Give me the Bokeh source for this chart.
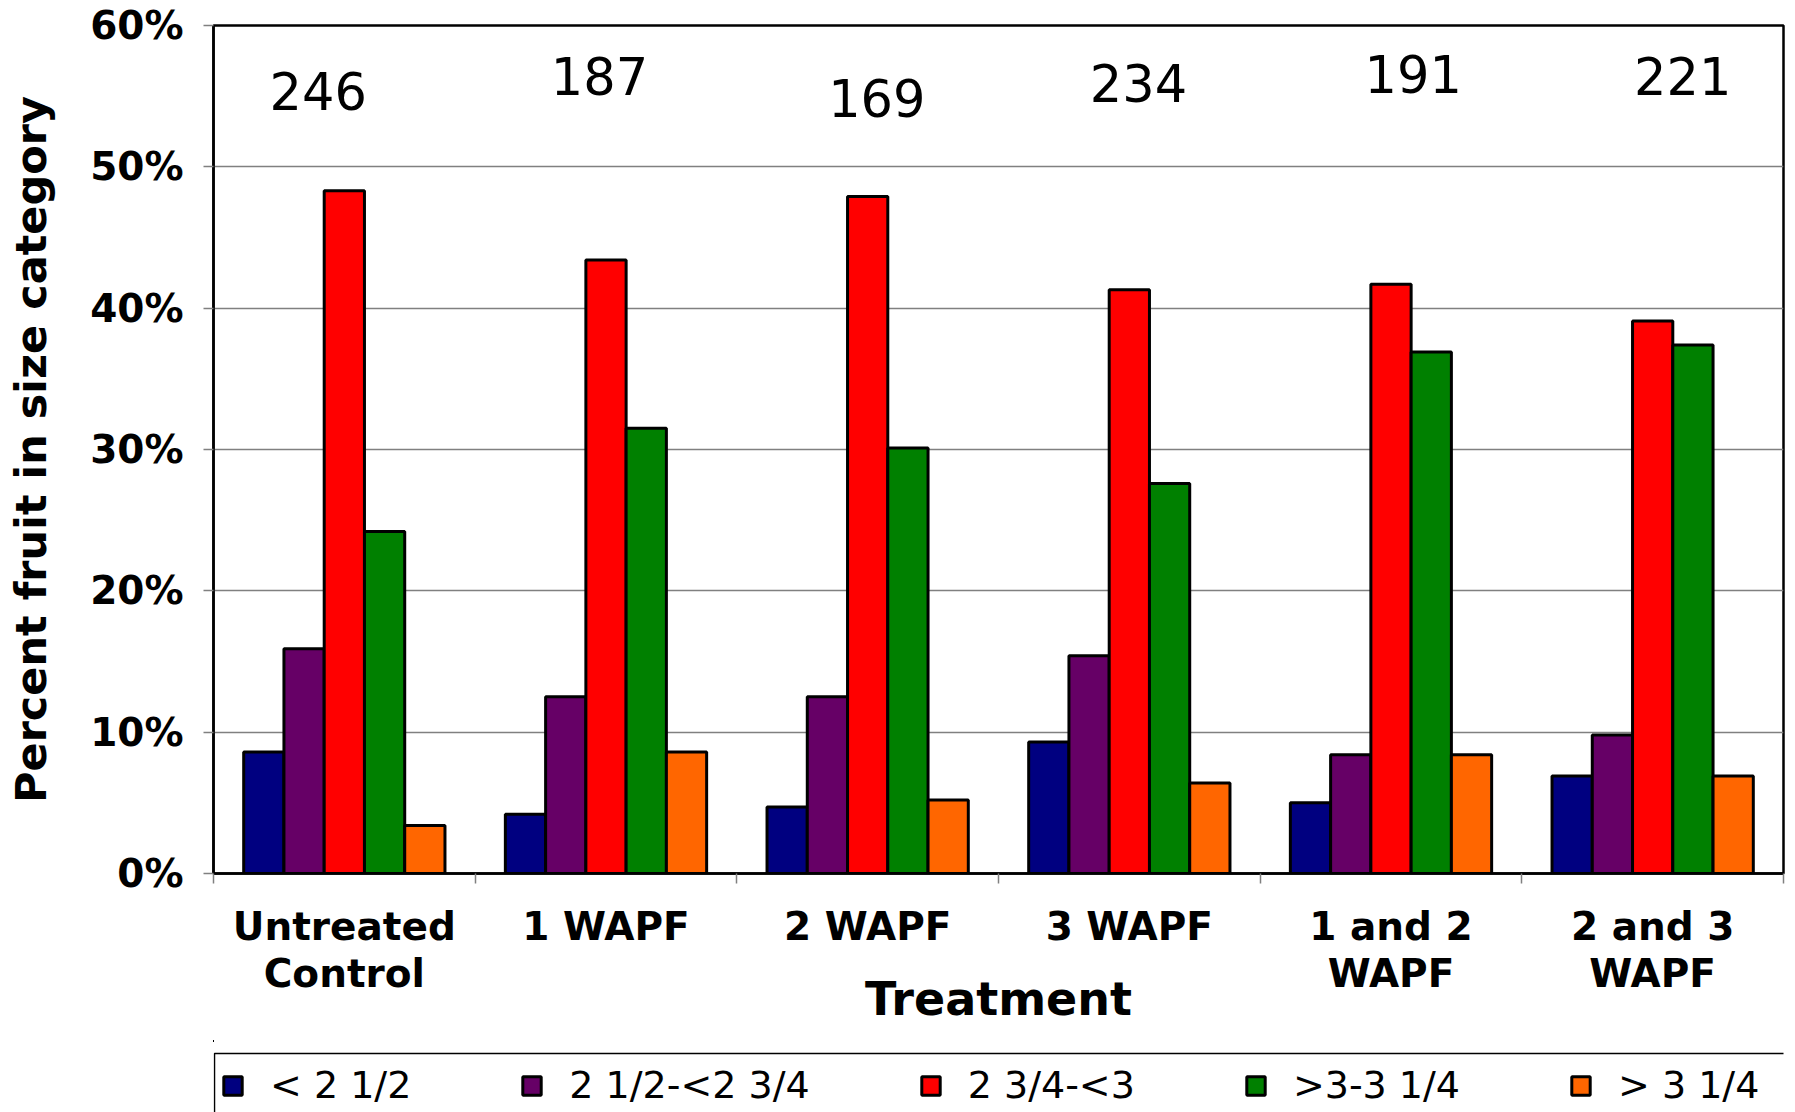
from bokeh.plotting import figure
from bokeh.layouts import column
from bokeh.models import (Range1d, FixedTicker, Legend, LegendItem,
                          ColumnDataSource, PrintfTickFormatter)
from bokeh.core.properties import value
from bokeh.embed import file_html
from bokeh.resources import INLINE

# ---------------- data ----------------
treatments = ["Untreated\nControl", "1 WAPF", "2 WAPF", "3 WAPF", "1 and 2\nWAPF", "2 and 3\nWAPF"]
size_classes = ["< 2 1/2", "2 1/2-<2 3/4", "2 3/4-<3", ">3-3 1/4", "> 3 1/4"]
colors = ["#000080", "#660066", "#FF0000", "#008000", "#FF6600"]

lt_2_half = [8.6, 4.2, 4.7, 9.3, 5.0, 6.9]
from_2_half_to_2_3q = [15.9, 12.5, 12.5, 15.4, 8.4, 9.8]
from_2_3q_to_3 = [48.3, 43.4, 47.9, 41.3, 41.7, 39.1]
from_3_to_3_quarter = [24.2, 31.5, 30.1, 27.6, 36.9, 37.4]
gt_3_quarter = [3.4, 8.6, 5.2, 6.4, 8.4, 6.9]
series = [lt_2_half, from_2_half_to_2_3q, from_2_3q_to_3, from_3_to_3_quarter, gt_3_quarter]

fruit_counts = ["246", "187", "169", "234", "191", "221"]
count_x = [0.40, 1.475, 2.535, 3.535, 4.585, 5.615]
count_y = [55.4, 56.4, 54.85, 55.9, 56.6, 56.4]

y_ticks = [0, 10, 20, 30, 40, 50, 60]

# ---------------- main chart ----------------
FONT = "DejaVu Sans"
p = figure(width=1787, height=1040, output_backend="svg", toolbar_location=None,
           x_range=Range1d(0, len(treatments)), y_range=Range1d(0, 60),
           min_border_left=213, min_border_right=4, min_border_top=25, min_border_bottom=167)
p.background_fill_color = "white"
p.border_fill_color = "white"
p.outline_line_color = "black"
p.outline_line_width = 2.5

centers = [i + 0.5 for i in range(len(treatments))]
bar_w = 1 / 6.5
sources = []
for k, (vals, col) in enumerate(zip(series, colors)):
    xs = [c + (k - 2) * bar_w for c in centers]
    src = ColumnDataSource(dict(x=xs, top=vals))
    sources.append(src)
    p.vbar(x="x", top="top", width=bar_w, bottom=0, source=src,
           fill_color=col, line_color="black", line_width=3)

# count labels
p.text(x=count_x, y=count_y, text=fruit_counts, text_align="center", text_baseline="middle",
       text_font=value(FONT), text_font_size="51px", text_color="black")

# grid
p.xgrid.grid_line_color = None
p.ygrid.ticker = FixedTicker(ticks=y_ticks)
p.ygrid.grid_line_color = "#808080"
p.ygrid.grid_line_width = 1.3

# y axis
ya = p.yaxis[0]
ya.ticker = FixedTicker(ticks=y_ticks)
ya.formatter = PrintfTickFormatter(format="%d%%")
ya.axis_line_color = "black"
ya.axis_line_width = 2.5
ya.major_tick_line_color = "#808080"
ya.major_tick_line_width = 1.5
ya.major_tick_out = 10
ya.major_tick_in = 0
ya.minor_tick_line_color = None
ya.major_label_standoff = 20
ya.major_label_text_font = FONT
ya.major_label_text_font_style = "bold"
ya.major_label_text_font_size = "39px"
ya.major_label_text_color = "black"
ya.axis_label = "Percent fruit in size category"
ya.axis_label_text_font = FONT
ya.axis_label_text_font_style = "bold"
ya.axis_label_text_font_size = "43px"
ya.axis_label_text_color = "black"
ya.axis_label_standoff = 31

# x axis
xa = p.xaxis[0]
xa.ticker = FixedTicker(ticks=centers, minor_ticks=list(range(len(treatments) + 1)))
xa.major_label_overrides = {c: t for c, t in zip(centers, treatments)}
xa.axis_line_color = "black"
xa.axis_line_width = 2.5
xa.major_tick_line_color = None
xa.major_tick_out = 0
xa.major_tick_in = 0
xa.minor_tick_line_color = "#808080"
xa.minor_tick_line_width = 1.5
xa.minor_tick_out = 10
xa.minor_tick_in = 0
xa.major_label_standoff = 20
xa.major_label_text_font = FONT
xa.major_label_text_font_style = "bold"
xa.major_label_text_font_size = "39px"
xa.major_label_text_color = "black"
xa.major_label_text_line_height = 1.05
xa.axis_label = "Treatment"
xa.axis_label_text_font = FONT
xa.axis_label_text_font_style = "bold"
xa.axis_label_text_font_size = "46px"
xa.axis_label_text_color = "black"
xa.axis_label_standoff = -27

# ---------------- legend strip (frame aligned with the chart's frame) ----------------
LEG_H = 72
lg = figure(width=1787, height=LEG_H, output_backend="svg", toolbar_location=None,
            x_range=Range1d(213, 1783), y_range=Range1d(-LEG_H, 0),
            x_axis_type=None, y_axis_type=None,
            min_border_left=0, min_border_right=0, min_border_top=0, min_border_bottom=0)
lg.grid.grid_line_color = None
lg.outline_line_color = None
lg.background_fill_color = "white"
lg.border_fill_color = "white"

# legend frame; its right and bottom sides run past the picture, as in the original
lg.quad(left=214, right=2100, top=-13, bottom=-300,
        fill_color="white", line_color="black", line_width=1.5)

# legend proxies: same data sources, they fall outside this strip's view
leg_renderers = []
for src, col in zip(sources, colors):
    r = lg.vbar(x="x", top="top", width=bar_w, bottom=0, source=src,
                fill_color=col, line_color="black", line_width=3)
    leg_renderers.append(r)

legend = Legend(items=[LegendItem(label=s, renderers=[r]) for s, r in zip(size_classes, leg_renderers)],
                orientation="horizontal", location=(8, 5))
legend.border_line_color = None
legend.background_fill_alpha = 0
legend.padding = 5
legend.margin = 0
legend.spacing = 109
legend.glyph_width = 23
legend.glyph_height = 23
legend.label_standoff = 26
legend.label_text_font = FONT
legend.label_text_font_size = "38px"
legend.label_text_color = "black"
lg.add_layout(legend, "center")

layout = column(p, lg, spacing=0)
open("out.html", "w").write(file_html(layout, INLINE))
